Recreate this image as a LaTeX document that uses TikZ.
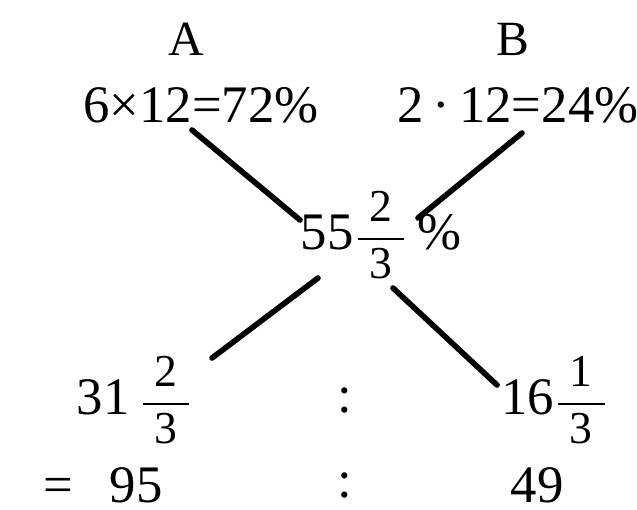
\documentclass[tikz,border=0pt]{standalone}
\usepackage{amsmath,fontspec}
\setmainfont{Liberation Serif}
\usetikzlibrary{calc}
\tikzset{
  hd/.style={inner sep=0pt, font=\fontsize{14}{17}\selectfont},
  lbl/.style={inner sep=0pt, font=\fontsize{15}{18}\selectfont},
  link/.style={line width=1.6pt, line cap=round},
}
\newcommand{\mfrac}[2]{{\fontsize{13}{15}\selectfont$\dfrac{\;\text{#1}\;}{\;\text{#2}\;}$}}

\begin{document}
\begin{tikzpicture}[x=0.01cm,y=-0.01cm]
  \useasboundingbox (0,0) rectangle (637,509);
  \node[hd] (A) at (186,39) {A};
  \node[hd] (B) at (513,39) {B};
  \node[lbl] (pa) at (201,105) {6×12=72\%};
  \node[lbl] (pb) at (518,105) {2\,·\,12=24\%};
  \node[lbl] (mix) at (381,235) {55\mfrac{2}{3}\,\%};
  \node[lbl] (da) at (135,400) {31\,\mfrac{2}{3}};
  \node[lbl] (sepa) at (345,400) {:};
  \node[lbl] (db) at (555,400) {16\mfrac{1}{3}};
  \node[lbl] (ra) at (103,485) {=\hspace{0.7em}95};
  \node[lbl] (sepb) at (345,485) {:};
  \node[lbl] (rb) at (537,485) {49};
  \draw[link] ($(pa.center)+(-9,25)$) -- ($(mix.center)+(-81,-15)$);
  \draw[link] ($(pb.center)+(4,28)$) -- ($(mix.center)+(37,-17)$);
  \draw[link] ($(mix.center)+(-63,43)$) -- ($(da.center)+(77,-42)$);
  \draw[link] ($(mix.center)+(12,53)$) -- ($(db.center)+(-58,-15)$);
\end{tikzpicture}
\end{document}
